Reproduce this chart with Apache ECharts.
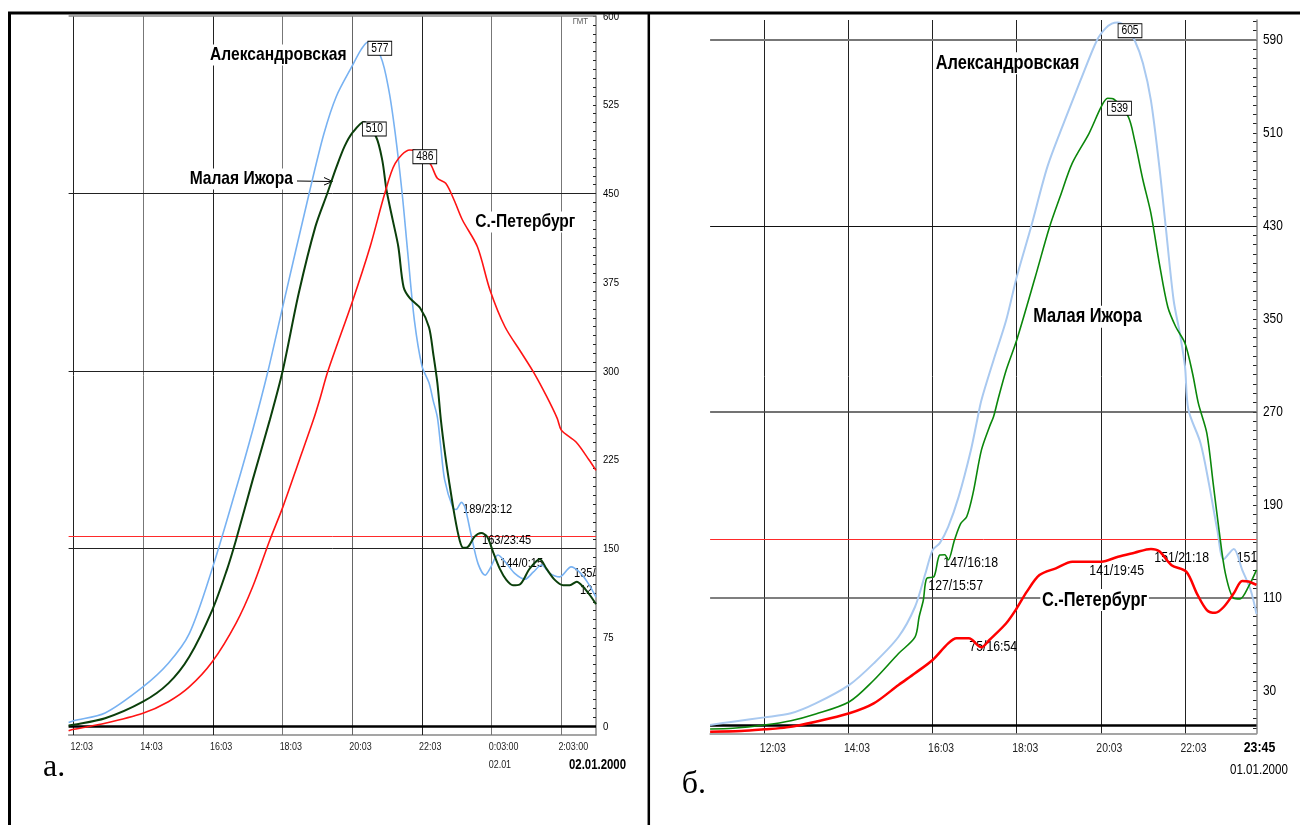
<!DOCTYPE html>
<html><head><meta charset="utf-8">
<script src="https://cdn.jsdelivr.net/npm/echarts@6/dist/echarts.min.js"></script>
<style>html,body{margin:0;padding:0;background:#fff;}#c{width:1300px;height:825px;}</style>
</head><body><div id="c"></div>
<script>
// ---------- Panel "а." (times in hours, 24+ = next day) ----------
const aBlueT = [11.907,12.05,12.955,14.04,14.77,15.37,16.03,16.71,17.19,17.63,18.05,18.81,19.23,19.59,20.05,20.31,20.5,20.86,21.1,21.28,21.48,21.64,21.83,22.05,22.25,22.37,22.49,22.58,22.7,22.94,23.03,23.18,23.28,23.47,23.66,23.86,24.0,24.23,24.47,24.71,25.0,25.24,25.48,25.72,26.0,26.33,26.57,26.81,27.043];
const aBlueV = [3,4.5,11,33,53,78,133,200,250,300,354,450,500,532,558,572,578,566,537,501,450,400,343,304,290,275,261,238,208,184,183,189,185,160,137,127.5,133,144.5,137.5,129,124,130,136,129,126,134.5,130,121,109];
const aGreenT = [11.907,12.05,12.955,14.04,14.77,15.37,16.03,16.45,16.71,17.19,17.68,18.05,18.51,18.99,19.33,19.59,19.83,20.07,20.38,20.73,20.91,21.03,21.21,21.37,21.52,21.7,22.0,22.25,22.37,22.49,22.59,22.72,22.82,22.99,23.13,23.23,23.35,23.56,23.75,23.92,24.09,24.28,24.47,24.66,24.85,25.14,25.43,25.62,25.86,26.1,26.29,26.49,26.68,26.87,27.043];
const aGreenV = [0.5,1,6.5,20.5,36,58.5,98,132,157,208,258.5,300,365.5,422,450,472,490,502,510.5,498,478,453,427.5,405,371,361.5,353,337,315,290,259,228,208,177,157,150.7,151,160,163,160,147,133,123.5,119,119.5,133,141,133,123.5,119,119,122,117.5,110.5,103];
const aRedT = [11.907,12.05,12.955,14.04,14.77,15.37,16.03,16.71,17.19,17.68,18.06,18.52,18.93,19.11,19.35,20.05,20.56,20.98,21.28,21.7,21.9,22.1,22.31,22.49,22.73,22.97,23.21,23.64,24.0,24.43,24.91,25.27,25.63,25.93,26.05,26.47,26.84,27.043];
const aRedV = [-4,-2.8,2.3,10.7,20.5,33,54.3,86.8,117.7,157,185.4,224,258.5,275.5,300,358.6,405,450,475.5,486.8,486,482,474,462.8,458.6,444.5,427.6,405,368.5,337.4,315,298,278.3,260,250,240,225,216];
const aXTicks = [12.05,14.05,16.05,18.05,20.05,22.05,24.05,26.05];
const aXLabels = ['12:03','14:03','16:03','18:03','20:03','22:03','0:03:00','2:03:00'];
const aXSub = ['','','','','','','02.01',''];
const aYLabels = [0,75,150,225,300,375,450,525,600];
const aYGrid = [150,300,450,600];
const aPeaks = ['577','510','486'];
const aNotes = ['189/23:12','163/23:45','144/0:15','135/','12'];
const aNames = ['Александровская','Малая Ижора','С.-Петербург'];

// ---------- Panel "б." ----------
const bBlueT = [10.76,11.3,12.05,12.68,13.27,14.07,14.65,15.24,15.63,15.88,16.05,16.22,16.42,16.67,16.96,17.11,17.21,17.5,17.8,18.05,18.39,18.78,19.18,19.57,19.96,20.16,20.31,20.45,20.65,20.85,21.05,21.24,21.44,21.59,21.78,21.93,22.05,22.13,22.42,22.62,22.82,22.97,23.21,23.41,23.61,23.75];
const bBlueV = [0.5,3.3,7,10.5,19,35,53.5,76.4,102,131,151,157,171,197,237,263,280,314.6,349,386,429,481,519.7,555.6,590,600,604,605,601,590,570,538,481,430,366,337,309,272,243,208,168,143,152,134,116.6,96];
const bGreenT = [10.76,11.3,12.05,12.68,13.27,14.07,14.65,15.24,15.63,15.73,15.83,15.91,16.08,16.22,16.34,16.42,16.57,16.72,16.86,17.01,17.21,17.4,17.5,17.6,17.8,18.05,18.49,18.83,19.08,19.37,19.77,20.06,20.21,20.36,20.7,20.85,21.05,21.24,21.44,21.64,21.83,22.05,22.23,22.37,22.57,22.72,22.86,23.01,23.21,23.36,23.56,23.75];
const bGreenV = [-3,-2.4,0.4,4.1,9.9,20.5,39,62,76,93.6,108,126.7,128,146.7,147,142.4,159.7,174,179.7,199.8,237,257,266,280,306,331.8,386,429,455,484,509.7,532.6,539.8,539,524,504,469.5,440.8,397.8,360.4,343.2,329,303,277,251.5,208.4,168,131,109.5,109,119.5,134];
const bRedT = [10.76,11.5,12.05,12.58,13.27,14.07,14.65,15.24,15.63,16.05,16.42,16.62,16.91,17.21,17.4,17.8,18.05,18.29,18.59,18.98,19.37,19.77,20.06,20.46,20.85,21.24,21.44,21.73,22.08,22.33,22.57,22.77,22.97,23.21,23.41,23.56,23.75];
const bRedV = [-5.3,-4.7,-3.3,-1.6,3.3,10.5,19,34.9,45,56.4,70.7,75,75,67.3,73.6,88,100.9,115.2,129.5,135.3,141,141,141,145.3,148.7,152,150,138,132.4,113.8,99.4,97,102,113.8,124.4,124,121];
const bXTicks = [12.05,14.05,16.05,18.05,20.05,22.05];
const bXLabels = ['12:03','14:03','16:03','18:03','20:03','22:03'];
const bYLabels = [30,110,190,270,350,430,510,590];
const bYGrid = [110,270,430,590];
const bPeaks = ['605','539'];
const bNotes = ['147/16:18','127/15:57','75/16:54','141/19:45','151/21:18','151'];
const bNames = ['Александровская','Малая Ижора','С.-Петербург'];

const ALARM = 160;   // red horizontal level
const ZERO = 0;

// ---------- helpers ----------
const SANS = "'Liberation Sans',Arial,sans-serif";
function pairs(T, V) { return T.map((t, i) => [t, V[i]]); }
function range(a, b, s) { const r = []; for (let v = a; v <= b + 1e-9; v += s) r.push(+v.toFixed(3)); return r; }

const aVStyle = ['#222','#777','#222','#777','#666','#222','#777','#777'];
const bVStyle = ['#222','#222','#222','#222','#222','#222'];
const aHStyle = [['#222',1],['#222',1],['#222',1],['#888',1.5]];
const bHStyle = [['#555',1.5],['#444',1.5],['#111',1.2],['#777',2]];

function gridLines(xT, xS, yG, yS) {
  const d = [];
  xT.forEach((v, i) => d.push({ xAxis: v, lineStyle: { color: xS[i], width: 1, type: 'solid' } }));
  yG.forEach((v, i) => d.push({ yAxis: v, lineStyle: { color: yS[i][0], width: yS[i][1], type: 'solid' } }));
  d.push({ yAxis: ALARM, lineStyle: { color: '#ff2a2a', width: 1, type: 'solid' } });
  d.push({ yAxis: ZERO, lineStyle: { color: '#000', width: 2.6, type: 'solid' } });
  return { silent: true, symbol: ['none', 'none'], label: { show: false }, z: 1, animation: false, data: d };
}

function line(name, T, V, xi, color, width, ml) {
  const s = { type: 'line', name, xAxisIndex: xi, yAxisIndex: xi, data: pairs(T, V), showSymbol: false,
    smooth: 0.3, lineStyle: { color, width }, itemStyle: { color }, z: 3, animation: false };
  if (ml) s.markLine = ml;
  return s;
}

function txt(x, y, text, size, opt) {
  opt = opt || {};
  return { type: 'text', x, y, z: opt.z || 2, scaleX: opt.sx === undefined ? 0.82 : opt.sx, silent: true,
    style: { text, x: 0, y: 0, font: (opt.bold ? 'bold ' : '') + size + 'px ' + (opt.family || SANS),
      fill: opt.fill || '#000', align: opt.align || 'left', verticalAlign: 'middle',
      backgroundColor: opt.bg, borderColor: opt.bc, borderWidth: opt.bw || 0, padding: opt.pad, lineHeight: opt.lh } };
}
function box(x, y, text) { return txt(x, y, text, 12.5, { bg: '#fff', bc: '#000', bw: 1, pad: [1, 3.6, 0, 3.6], lh: 12, z: 6 }); }
function name(x, y, text, size) { return txt(x, y, text, size, { bold: true, bg: '#fff', pad: [1, 2, 1, 2], z: 2 }); }

const option = {
  backgroundColor: '#fff',
  animation: false,
  grid: [
    { left: 68.6, top: 16, width: 527.4, height: 719 },
    { left: 710.1, top: 20, width: 546.4, height: 713.3 }
  ],
  xAxis: [
    { type: 'value', gridIndex: 0, min: 11.907, max: 27.043,
      axisLine: { show: true, onZero: false, lineStyle: { color: '#888', width: 1.5 } },
      axisTick: { show: false }, splitLine: { show: false }, axisLabel: { show: false } },
    { type: 'value', gridIndex: 1, min: 10.76, max: 23.75,
      axisLine: { show: true, onZero: false, lineStyle: { color: '#888', width: 1.5 } },
      axisTick: { show: false }, splitLine: { show: false }, axisLabel: { show: false } }
  ],
  yAxis: [
    { type: 'value', gridIndex: 0, position: 'right', min: -7.6, max: 600,
      axisLine: { show: true, lineStyle: { color: '#888', width: 1.5 } },
      axisTick: { show: true, inside: true, length: 3, customValues: range(0, 600, 7.5), lineStyle: { color: '#222' } },
      splitLine: { show: false }, axisLabel: { show: false } },
    { type: 'value', gridIndex: 1, position: 'right', min: -6.7, max: 607.2,
      axisLine: { show: true, lineStyle: { color: '#888', width: 1.5 } },
      axisTick: { show: true, inside: true, length: 3.5, customValues: range(-2, 606, 8), lineStyle: { color: '#222' } },
      splitLine: { show: false }, axisLabel: { show: false } }
  ],
  series: [
    line('Александровская а', aBlueT, aBlueV, 0, '#78b2f2', 1.6, gridLines(aXTicks, aVStyle, aYGrid, aHStyle)),
    line('Малая Ижора а', aGreenT, aGreenV, 0, '#0b3f0b', 2),
    line('С.-Петербург а', aRedT, aRedV, 0, '#ff1414', 1.6),
    line('Александровская б', bBlueT, bBlueV, 1, '#a9c9f0', 2, gridLines(bXTicks, bVStyle, bYGrid, bHStyle)),
    line('Малая Ижора б', bGreenT, bGreenV, 1, '#0b870b', 1.6),
    line('С.-Петербург б', bRedT, bRedV, 1, '#ff0000', 2.5)
  ],
  graphic: [
    // frame
    { type: 'line', silent: true, z: 10, shape: { x1: 8, y1: 13, x2: 1300, y2: 13 }, style: { stroke: '#000', lineWidth: 3 } },
    { type: 'line', silent: true, z: 10, shape: { x1: 9.5, y1: 12, x2: 9.5, y2: 825 }, style: { stroke: '#000', lineWidth: 3 } },
    { type: 'line', silent: true, z: 10, shape: { x1: 648.8, y1: 12, x2: 648.8, y2: 825 }, style: { stroke: '#000', lineWidth: 2.5 } },
    // panel a texts
    name(208.4, 55, aNames[0], 19),
    name(188, 179, aNames[1], 19),
    name(473.6, 222, aNames[2], 19),
    { type: 'polyline', silent: true, z: 2, shape: { points: [[297, 181], [332, 181.5]] }, style: { stroke: '#000', lineWidth: 1, fill: null } },
    { type: 'polyline', silent: true, z: 2, shape: { points: [[324, 177.5], [332.5, 181.5], [324, 185]] }, style: { stroke: '#000', lineWidth: 1, fill: null } },
    box(368.3, 48.3, aPeaks[0]),
    box(362.8, 129, aPeaks[1]),
    box(413.3, 156.7, aPeaks[2]),
    txt(463, 509, aNotes[0], 13.5),
    txt(482, 540, aNotes[1], 13.5),
    txt(500, 563, aNotes[2], 13.5),
    txt(574, 573, aNotes[3], 13.5),
    txt(580, 590, aNotes[4], 13.5),
    txt(572.7, 21.5, 'ГМТ', 9.5, { fill: '#555' }),
    txt(569, 765, '02.01.2000', 13.9, { bold: true }),
    txt(43, 768, 'а.', 32, { sx: 1, family: "'Liberation Serif','Times New Roman',serif" }),
    // panel b texts
    name(934, 63.3, bNames[0], 20),
    name(1031.5, 316.7, bNames[1], 20),
    name(1040.3, 600, bNames[2], 20),
    box(1118.5, 30.7, bPeaks[0]),
    box(1108, 108.3, bPeaks[1]),
    txt(943.3, 563.3, bNotes[0], 15),
    txt(928.3, 585.7, bNotes[1], 15),
    txt(969.3, 647.3, bNotes[2], 15),
    txt(1089.3, 570.7, bNotes[3], 15),
    txt(1154.3, 558.3, bNotes[4], 15),
    txt(1236.7, 558.3, bNotes[5], 15),
    txt(1230, 770, '01.01.2000', 14.1),
    txt(681.7, 785, 'б.', 32, { sx: 1, family: "'Liberation Serif','Times New Roman',serif" })
  ]
};

const chart = echarts.init(document.getElementById('c'), null, { renderer: 'canvas', width: 1300, height: 825 });
chart.setOption(option);

// axis labels in a narrow face, placed through the axes' own scales
const labels = [];
aXTicks.forEach((t, i) => {
  const px = chart.convertToPixel({ xAxisIndex: 0 }, t);
  labels.push(txt(px - 3, 746.5, aXLabels[i], 10.9, { fill: '#222' }));
  if (aXSub[i]) labels.push(txt(px - 3, 765, aXSub[i], 10.9, { fill: '#222' }));
});
bXTicks.forEach((t, i) => {
  const px = chart.convertToPixel({ xAxisIndex: 1 }, t);
  labels.push(txt(px - 4.5, 748, bXLabels[i], 12.7, { fill: '#222' }));
});
labels.push(txt(chart.convertToPixel({ xAxisIndex: 1 }, 23.75) + 3, 748, '23:45', 15, { bold: true, align: 'center' }));
aYLabels.forEach(v => {
  const py = chart.convertToPixel({ yAxisIndex: 0 }, v);
  labels.push(txt(603, py + 0.5, String(v), 11.7));
});
bYLabels.forEach(v => {
  const py = chart.convertToPixel({ yAxisIndex: 1 }, v);
  labels.push(txt(1263, py + 0.5, String(v), 14.5));
});
chart.setOption({ graphic: option.graphic.concat(labels) });
</script>
</body></html>
